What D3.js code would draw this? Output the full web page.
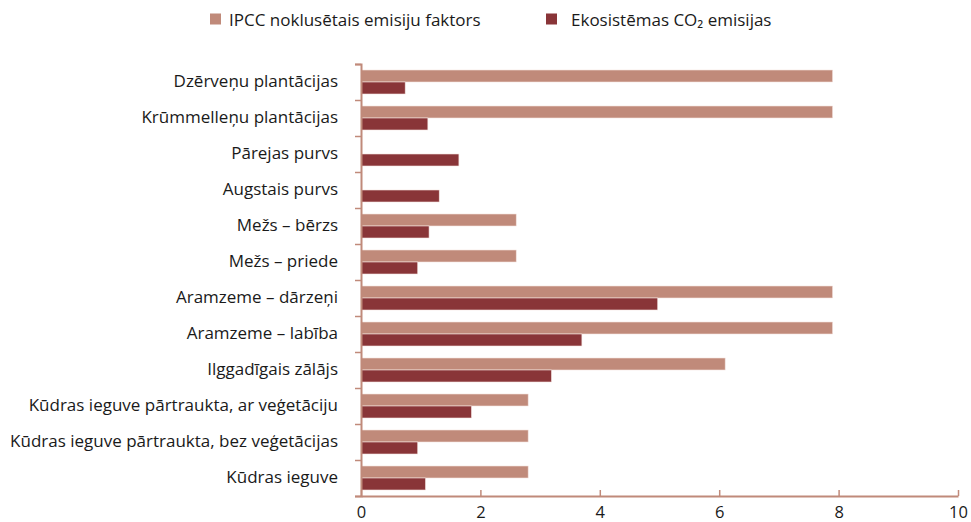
<!DOCTYPE html>
<html>
<head>
<meta charset="utf-8">
<script src="https://cdn.jsdelivr.net/npm/d3@7"></script>
<style>
  body { margin: 0; background: #fff; }
  svg text { font-family: "Open Sans", "Noto Sans", sans-serif; fill: #1a1a1a; }
</style>
</head>
<body>
<svg width="971" height="522"></svg>
<script>
// categories top -> bottom
let categories = [
    "Dzērveņu plantācijas",
    "Krūmmelleņu plantācijas",
    "Pārejas purvs",
    "Augstais purvs",
    "Mežs – bērzs",
    "Mežs – priede",
    "Aramzeme – dārzeņi",
    "Aramzeme – labība",
    "Ilggadīgais zālājs",
    "Kūdras ieguve pārtraukta, ar veģetāciju",
    "Kūdras ieguve pārtraukta, bez veģetācijas",
    "Kūdras ieguve"
]
let ipcc = [7.9, 7.9, 0, 0, 2.6, 2.6, 7.9, 7.9, 6.1, 2.8, 2.8, 2.8]
let eco = [0.74, 1.12, 1.64, 1.31, 1.14, 0.95, 4.97, 3.7, 3.19, 1.85, 0.95, 1.08]
let seriesNames = ["IPCC noklusētais emisiju faktors", "Ekosistēmas CO₂ emisijas"]
let seriesColors = ["#c08a7a", "#893538"]
let xTicks = [0, 2, 4, 6, 8, 10]

let svg = d3.select("svg")
let mLeft = 361, mRight = 958, mTop = 64, mBottom = 496
let axisColor = "#c08a7a"

let x = d3.scaleLinear().domain([0, 10]).range([mLeft, mRight])
let y = d3.scaleBand().domain(categories).range([mTop, mBottom])
    .paddingInner(1 / 3).paddingOuter(1 / 6)
let ySub = d3.scaleBand().domain([0, 1]).range([0, y.bandwidth()])

let rows = categories.map((c, i) => ({c: c, v: [ipcc[i], eco[i]]}))

// bars
let g = svg.append("g")
rows.forEach(r => {
    r.v.forEach((v, s) => {
        if (v <= 0) return
        g.append("rect")
            .attr("x", x(0))
            .attr("y", y(r.c) + ySub(s))
            .attr("width", x(v) - x(0))
            .attr("height", ySub.bandwidth())
            .attr("fill", seriesColors[s])
            .attr("stroke", "#f3e3df")
            .attr("stroke-width", 0.6)
    })
})

// y axis: labels at band centres, ticks at band boundaries
let yAx = svg.append("g").attr("transform", `translate(${mLeft},0)`)
    .call(d3.axisLeft(y).tickSize(0).tickPadding(23))
yAx.select(".domain").remove()
yAx.selectAll("text").style("font-size", "17px").attr("dy", "0.3em")

let yb = d3.scaleLinear().domain([0, categories.length]).range([mTop, mBottom])
let yTk = svg.append("g").attr("transform", `translate(${mLeft},0)`)
    .call(d3.axisLeft(yb).tickValues(d3.range(categories.length + 1)).tickSize(6).tickFormat(""))
yTk.select(".domain").attr("stroke", axisColor).attr("stroke-width", 2)
yTk.selectAll("line").attr("stroke", axisColor).attr("stroke-width", 1.5)

// x axis (ticks pointing up)
let xAx = svg.append("g").attr("transform", `translate(0,${mBottom})`)
    .call(d3.axisBottom(x).tickValues(xTicks).tickSize(-6).tickSizeOuter(0).tickPadding(21.5))
xAx.select(".domain").attr("stroke", axisColor).attr("stroke-width", 2)
xAx.selectAll("line").attr("stroke", axisColor).attr("stroke-width", 1.5)
xAx.selectAll("text").style("font-size", "16.5px").attr("dy", "0")

// legend
let lg = svg.append("g")
let lx = [210, 546]
let ltx = [229, 571]
seriesNames.forEach((n, i) => {
    lg.append("rect").attr("x", lx[i]).attr("y", 13.5).attr("width", 11).attr("height", 11)
        .attr("fill", seriesColors[i])
    lg.append("text").attr("x", ltx[i]).attr("y", 25.5).text(n)
        .style("font-size", "17px")
})
</script>
</body>
</html>
